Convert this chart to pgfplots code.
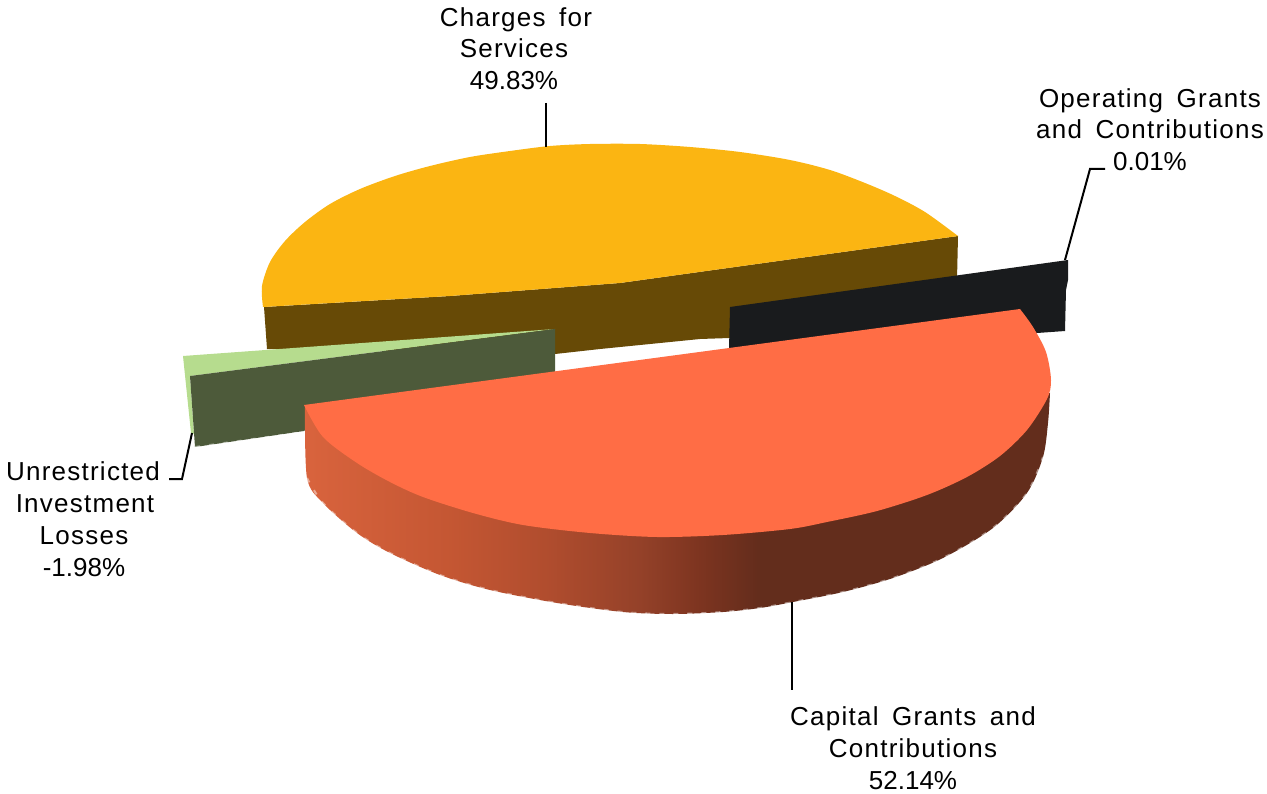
\documentclass[border=0pt]{standalone}
\usepackage{fontspec}
\setmainfont[LetterSpace=4.8,WordSpace=1.6]{Liberation Sans}
\newfontfamily\numfont{Liberation Sans}
\usepackage{pgfplots}
\pgfplotsset{compat=1.18}
\definecolor{yel}{HTML}{FBB512}
\definecolor{brn}{HTML}{674A06}
\definecolor{blk}{HTML}{191B1D}
\definecolor{lgr}{HTML}{B6DC8E}
\definecolor{dgr}{HTML}{4D5A3A}
\definecolor{org}{HTML}{FF6D45}
\pgfdeclarehorizontalshading{orangeside}{100bp}{
  rgb(0bp)=(0.85,0.39,0.24);
  rgb(25bp)=(0.85,0.39,0.24);
  rgb(34.7bp)=(0.77,0.34,0.20);
  rgb(41.4bp)=(0.69,0.30,0.18);
  rgb(47.5bp)=(0.58,0.255,0.16);
  rgb(51.5bp)=(0.49,0.205,0.125);
  rgb(55.5bp)=(0.39,0.175,0.11);
  rgb(100bp)=(0.39,0.175,0.11)}
\newcommand{\lab}[3]{\node[anchor=base,inner sep=0pt,font=\fontsize{26}{30}\selectfont] at (axis cs:#1,#2) {#3};}
\begin{document}
\begin{tikzpicture}
\begin{axis}[width=1267pt,height=794pt,scale only axis,hide axis,clip=false,
  xmin=0,xmax=1267,ymin=0,ymax=794,y dir=reverse]
\addplot[draw=none] coordinates {(0,0) (1267,794)};
% brown side
\addplot[draw=none,fill=brn] coordinates {(264,307) (450,296) (620,283) (958,236) (957,280) (730,338) (700,339) (600,349) (555,354) (267,349)} -- cycle;
% yellow top: rim and chord part
\addplot[draw=none,fill=yel,smooth] coordinates {(263,307) (262,286) (270,262) (285,241) (305,222) (330,204) (360,189) (395,176) (430,166) (470,157) (510,151) (550,146) (590,144) (640,144) (690,147) (740,152) (790,160) (830,170) (865,183) (895,196) (925,212) (958,236)};
\addplot[draw=none,fill=yel] coordinates {(263,307) (450,296) (620,283) (958,236) (620,240) (300,280)} -- cycle;
% black
\addplot[draw=none,fill=blk] coordinates {(730,307) (1068,260) (1068,280) (1066,290) (1065,331) (1037,333) (1020,340) (729,349)} -- cycle;
% light green
\addplot[draw=none,fill=lgr] coordinates {(183,356) (555,329) (190,376) (194,434) (191,433)} -- cycle;
% dark green
\addplot[draw=none,fill=dgr] coordinates {(190,376) (555,329) (555,373) (320,420) (304,431) (195,447)} -- cycle;
\addplot[white,opacity=0.45,line width=2pt,dash pattern=on 5pt off 9pt] coordinates {(195,447) (304,432)};
% orange side
\addplot[draw=none,shading=orangeside,smooth] coordinates {(305,407) (307,478) (323,503) (357,533) (390,553) (440,575) (490,590) (557,603) (623,612) (673,614) (723,612) (760,608) (793,602) (843,592) (893,578) (943,558) (993,528) (1027,493) (1043,457) (1048,423) (1050,393)};
\addplot[white,opacity=0.45,line width=2pt,dash pattern=on 5pt off 9pt,smooth] coordinates {(307,478) (323,503) (357,533) (390,553) (440,575) (490,590) (557,603) (623,612) (673,614) (723,612) (760,608) (793,602) (843,592) (893,578) (943,558) (993,528) (1027,493) (1043,457)};
% orange top: rim and flat edge
\addplot[draw=none,fill=org,smooth] coordinates {(1020,309) (1033,327) (1046,352) (1051,380) (1047,399) (1027,430) (1000,456) (967,477) (927,495) (877,511) (827,522) (790,529) (723,535) (657,537) (590,533) (523,525) (473,513) (423,497) (390,482) (357,463) (323,437) (304,405)};
% leaders
\addplot[black,line width=2pt] coordinates {(546,103) (546,147)};
\addplot[black,line width=2pt] coordinates {(1105,169) (1090,169) (1065,260)};
\addplot[black,line width=2pt] coordinates {(169,479) (182,479) (192,433)};
\addplot[black,line width=2pt] coordinates {(792,602) (792,690)};
% labels
\lab{516}{27}{Charges for}
\lab{514}{58}{Services}
\lab{514}{90}{\numfont 49.83\%}
\lab{1150}{108}{Operating Grants}
\lab{1150}{139}{and Contributions}
\lab{1150}{171}{\numfont 0.01\%}
\lab{83}{480}{Unrestricted}
\lab{85}{512}{Investment}
\lab{84}{544}{Losses}
\lab{84}{576}{\numfont -1.98\%}
\lab{913}{725}{Capital Grants and}
\lab{913}{757}{Contributions}
\lab{913}{789}{\numfont 52.14\%}
\end{axis}
\end{tikzpicture}
\end{document}
